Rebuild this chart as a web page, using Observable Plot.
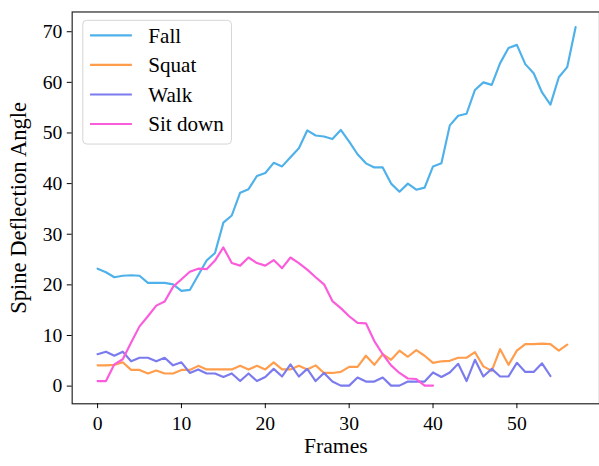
<!DOCTYPE html>
<html>
<head>
<meta charset="utf-8">
<script src="https://cdn.jsdelivr.net/npm/d3@7"></script>
<script src="https://cdn.jsdelivr.net/npm/@observablehq/plot@0.6"></script>
<style>
  html, body { margin: 0; padding: 0; background: #fff; overflow: hidden; }
  #chart { width: 599px; height: 466px; overflow: hidden; }
  #chart svg { display: block; }
  g[aria-label="x-axis label"] text { font-size: 22px; }
  g[aria-label="y-axis label"] text { font-size: 23px; }
</style>
</head>
<body>
<div id="chart"></div>
<script>
// Spine deflection angle per frame, one array per activity
const fall = [23.2, 22.5, 21.5, 21.8, 21.9, 21.8, 20.4, 20.4, 20.4, 20.1,
              18.8, 19.0, 21.9, 24.8, 26.3, 32.3, 33.7, 38.2, 38.9, 41.5,
              42.1, 44.1, 43.4, 45.2, 47.0, 50.5, 49.5, 49.3, 48.8, 50.6,
              48.3, 45.8, 44.0, 43.2, 43.2, 40.0, 38.4, 40.0, 38.8, 39.2,
              43.4, 44.0, 51.5, 53.4, 53.8, 58.5, 60.0, 59.5, 63.8, 66.8,
              67.4, 63.6, 61.8, 58.0, 55.6, 61.0, 63.0, 70.9];
const squat = [4.1, 4.1, 4.2, 4.7, 3.2, 3.2, 2.5, 3.1, 2.5, 2.5,
               3.2, 3.2, 4.0, 3.3, 3.3, 3.3, 3.3, 4.0, 3.3, 4.0,
               3.3, 4.7, 3.3, 3.3, 4.0, 3.3, 4.1, 2.6, 2.6, 2.8,
               3.8, 3.8, 6.0, 4.2, 6.3, 5.2, 7.0, 5.8, 7.1, 6.0,
               4.6, 4.9, 5.0, 5.6, 5.6, 6.7, 3.9, 3.0, 7.3, 4.2,
               7.0, 8.3, 8.3, 8.4, 8.3, 7.0, 8.2];
const walk = [6.3, 6.8, 6.0, 6.8, 4.9, 5.6, 5.6, 4.9, 5.6, 4.1,
              4.7, 2.6, 3.3, 2.5, 2.5, 1.8, 2.5, 1.0, 2.5, 1.0,
              1.8, 3.4, 1.9, 4.3, 1.9, 3.4, 1.0, 2.6, 0.9, 0.1,
              0.1, 1.7, 0.9, 0.9, 1.7, 0.1, 0.1, 0.9, 0.9, 0.9,
              2.7, 1.8, 2.7, 4.4, 1.0, 5.2, 1.9, 3.4, 1.9, 1.9,
              4.6, 2.8, 2.8, 4.5, 2.0];
const sitDown = [1.0, 1.0, 4.3, 5.3, 8.6, 11.8, 13.8, 15.9, 16.7, 19.6,
                 21.1, 22.6, 23.2, 23.1, 24.8, 27.4, 24.3, 23.8, 25.4, 24.3,
                 23.8, 24.9, 23.3, 25.4, 24.3, 23.0, 21.5, 20.1, 16.8, 15.4,
                 13.8, 12.5, 12.4, 8.9, 6.3, 4.1, 2.6, 1.5, 1.4, 0.1,
                 0.1];

const seriesNames = ["Fall", "Squat", "Walk", "Sit down"];
const seriesValues = [fall, squat, walk, sitDown];
const seriesColors = ["#4fb1ea", "#ff9d4d", "#7b7bee", "#fb5cdc"];

const xTicks = [0, 10, 20, 30, 40, 50];
const yTicks = [0, 10, 20, 30, 40, 50, 60, 70];

// Long table: one row per (activity, frame)
const rows = seriesNames.flatMap((name, k) =>
  seriesValues[k].map((angle, frame) => ({activity: name, frame, angle}))
);

const font = "'Liberation Serif', 'Times New Roman', serif";

const chart = Plot.plot({
  width: 610,
  height: 466,
  marginLeft: 73,
  marginRight: 0,
  marginTop: 11.7,
  marginBottom: 55.3,
  style: {fontFamily: font, fontSize: "20px", color: "#000", background: "#fff"},
  x: {domain: [-3.03, 59.85]},
  y: {domain: [-3.49, 73.9]},
  color: {domain: seriesNames, range: seriesColors},
  marks: [
    Plot.lineY(rows, {x: "frame", y: "angle", z: "activity", stroke: "activity", strokeWidth: 2.2}),
    Plot.frame({stroke: "#222", strokeWidth: 1.2}),
    Plot.axisX({ticks: xTicks, tickSize: 5, tickPadding: 7, label: "Frames",
                labelAnchor: "center", labelArrow: "none", labelOffset: 50}),
    Plot.axisY({ticks: yTicks, tickSize: 5, tickPadding: 5, label: "Spine Deflection Angle",
                labelAnchor: "center", labelArrow: "none", labelOffset: 63})
  ]
});

document.getElementById("chart").appendChild(chart);

// Legend box in the upper-left corner of the axes
const svg = d3.select(chart);
const lg = svg.append("g").attr("transform", "translate(84.3,20.7)");
lg.append("rect")
  .attr("width", 151.4).attr("height", 126).attr("rx", 4)
  .attr("fill", "#fff").attr("fill-opacity", 0.8)
  .attr("stroke", "#d4d4d4").attr("stroke-width", 1);
seriesNames.forEach((name, i) => {
  const cy = 15.3 + i * 30.1;
  lg.append("line")
    .attr("x1", 7.4).attr("x2", 50)
    .attr("y1", cy).attr("y2", cy)
    .attr("stroke", seriesColors[i]).attr("stroke-width", 2.2);
  lg.append("text")
    .attr("x", 66.7).attr("y", cy).attr("dy", "0.35em")
    .attr("text-anchor", "start")
    .style("font-family", font).style("font-size", "21.5px").style("fill", "#000")
    .text(name);
});
</script>
</body>
</html>
